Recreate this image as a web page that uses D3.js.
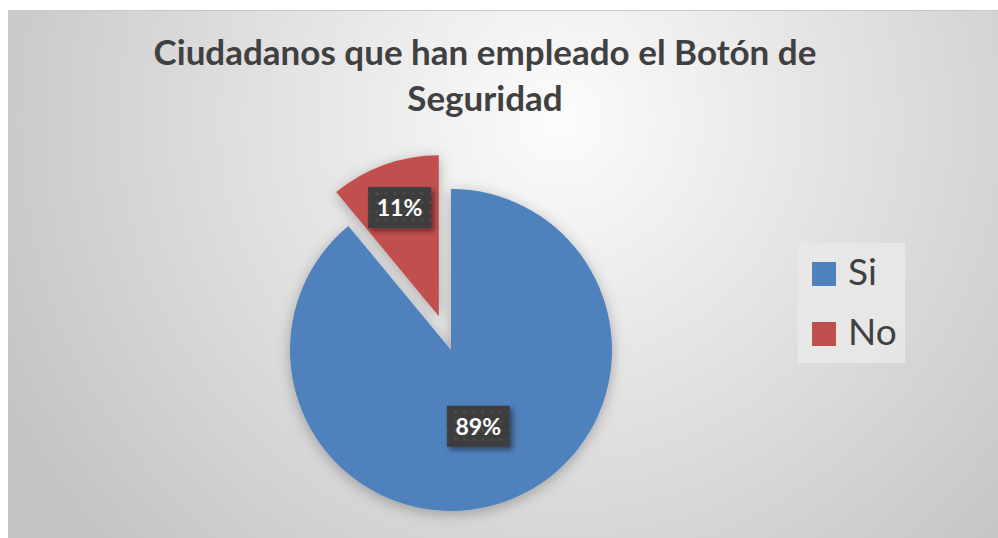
<!DOCTYPE html>
<html>
<head>
<meta charset="utf-8">
<script src="https://cdn.jsdelivr.net/npm/d3@7"></script>
<style>
  html, body { margin: 0; padding: 0; background: #fff; }
  svg { display: block; }
</style>
</head>
<body>
<div id="chart"></div>
<script>
// Chart data
const categories = ['Si', 'No'];
const values = [89, 11];
const colors = ['#4f81bd', '#c0504d'];
const percentLabels = ['89%', '11%'];
const titleLines = ['Ciudadanos que han empleado el Botón de', 'Seguridad'];

const width = 998, height = 538;
const font = 'Lato, "Open Sans", sans-serif';
const svg = d3.select('#chart').append('svg')
    .attr('width', width)
    .attr('height', height);

const defs = svg.append('defs');

// Background: radial gradient, light in the upper middle
const bg = defs.append('radialGradient')
    .attr('id', 'bg-grad')
    .attr('gradientUnits', 'userSpaceOnUse')
    .attr('cx', 560).attr('cy', 120).attr('r', 620);
bg.append('stop').attr('offset', '0%').attr('stop-color', '#fcfcfc');
bg.append('stop').attr('offset', '100%').attr('stop-color', '#c4c4c4');

// Soft shadow under the pie
const pieShadow = defs.append('filter').attr('id', 'pie-shadow')
    .attr('x', '-30%').attr('y', '-30%').attr('width', '160%').attr('height', '160%');
pieShadow.append('feDropShadow')
    .attr('dx', 0).attr('dy', 3).attr('stdDeviation', 7)
    .attr('flood-color', '#000').attr('flood-opacity', 0.28);

// Shadow for the label boxes
const boxShadow = defs.append('filter').attr('id', 'box-shadow')
    .attr('x', '-30%').attr('y', '-30%').attr('width', '170%').attr('height', '170%');
boxShadow.append('feDropShadow')
    .attr('dx', 3).attr('dy', 3).attr('stdDeviation', 2.5)
    .attr('flood-color', '#000').attr('flood-opacity', 0.45);

// Dotted fill used by the label boxes
const dots = defs.append('pattern')
    .attr('id', 'dots')
    .attr('patternUnits', 'userSpaceOnUse')
    .attr('width', 9).attr('height', 9);
dots.append('rect').attr('width', 9).attr('height', 9).attr('fill', '#3d3d3d');
dots.append('circle').attr('cx', 4.5).attr('cy', 4.5).attr('r', 1.6).attr('fill', '#4b4b4b');

// Chart area
svg.append('rect')
    .attr('x', 8).attr('y', 10)
    .attr('width', width - 8).attr('height', height - 10)
    .attr('fill', 'url(#bg-grad)');
svg.append('line')
    .attr('x1', 8).attr('x2', width)
    .attr('y1', 10.5).attr('y2', 10.5)
    .attr('stroke', '#c8c8c8');

// Title, sized to the reference width
const title = svg.append('g')
    .attr('font-family', font)
    .attr('font-weight', 700)
    .attr('fill', '#404040')
    .attr('text-anchor', 'middle');
const titleY = [65, 111];
const t0 = title.selectAll('text')
    .data(titleLines)
    .join('text')
    .attr('x', 485)
    .attr('y', (d, i) => titleY[i])
    .attr('font-size', 30)
    .text(d => d);
const measured = t0.node().getComputedTextLength();
t0.attr('font-size', 30 * 663 / measured);

// Pie
const cx = 451, cy = 350, radius = 161;
const explode = [0, 36];
const labelRadius = [0.5, 0.72];

const pie = d3.pie().sort(null).value(d => d.value);
const arcs = pie(categories.map((c, i) => ({ name: c, value: values[i], i })));
const arc = d3.arc().innerRadius(0).outerRadius(radius);

const offset = (d, dist) => {
    const a = (d.startAngle + d.endAngle) / 2;
    return [Math.sin(a) * dist, -Math.cos(a) * dist];
};

const pieG = svg.append('g')
    .attr('transform', `translate(${cx},${cy})`)
    .attr('filter', 'url(#pie-shadow)');

pieG.selectAll('path')
    .data(arcs)
    .join('path')
    .attr('d', arc)
    .attr('fill', d => colors[d.data.i])
    .attr('transform', d => {
        const [dx, dy] = offset(d, explode[d.data.i]);
        return `translate(${dx},${dy})`;
    });

// Data labels
const labelG = svg.append('g')
    .attr('transform', `translate(${cx},${cy})`);

const labels = labelG.selectAll('g')
    .data(arcs)
    .join('g')
    .attr('transform', d => {
        const [ex, ey] = offset(d, explode[d.data.i]);
        const [lx, ly] = offset(d, radius * labelRadius[d.data.i]);
        return `translate(${ex + lx},${ey + ly})`;
    });

labels.append('rect')
    .attr('x', -31.5).attr('y', -20)
    .attr('width', 63).attr('height', 41)
    .attr('fill', 'url(#dots)')
    .attr('filter', 'url(#box-shadow)');

labels.append('text')
    .attr('text-anchor', 'middle')
    .attr('y', 9)
    .attr('font-family', font)
    .attr('font-weight', 700)
    .attr('font-size', 23)
    .attr('fill', '#fff')
    .text(d => percentLabels[d.data.i]);

// Legend
const legend = svg.append('g');
legend.append('rect')
    .attr('x', 798).attr('y', 243)
    .attr('width', 107).attr('height', 120)
    .attr('fill', '#e9e9e9')
    .attr('opacity', 0.85);

const legendItems = legend.selectAll('g.item')
    .data(categories)
    .join('g')
    .attr('class', 'item')
    .attr('transform', (d, i) => `translate(812,${262 + i * 60})`);

legendItems.append('rect')
    .attr('width', 24).attr('height', 24)
    .attr('fill', (d, i) => colors[i]);

legendItems.append('text')
    .attr('x', 36).attr('y', 23)
    .attr('font-family', font)
    .attr('font-size', 37)
    .attr('fill', '#404040')
    .text(d => d);
</script>
</body>
</html>
